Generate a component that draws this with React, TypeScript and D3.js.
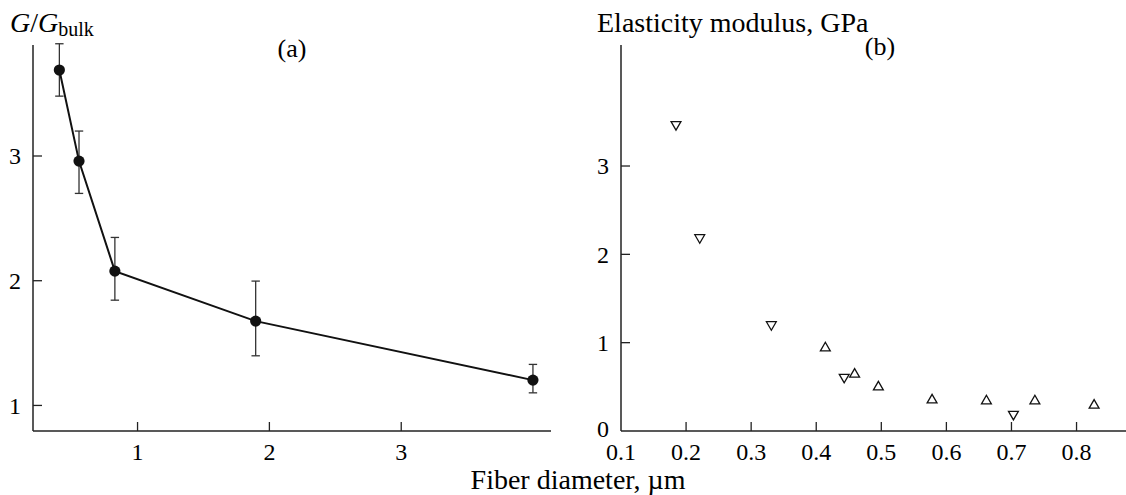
import React from "react";
import * as d3 from "d3";

// Panel (a): G/G_bulk vs fiber diameter
const aDiam = [0.407, 0.556, 0.828, 1.896, 3.999];
const aRatio = [3.689, 2.959, 2.077, 1.676, 1.203];
const aErrHi = [3.9, 3.2, 2.347, 1.997, 1.329];
const aErrLo = [3.48, 2.7, 1.844, 1.398, 1.101];
const aXTicks = [1, 2, 3];
const aYTicks = [1, 2, 3];

// Panel (b): elasticity modulus vs fiber diameter
const bDownX = [0.1845, 0.221, 0.331, 0.443, 0.703];
const bDownY = [3.47, 2.19, 1.205, 0.61, 0.19];
const bUpX = [0.414, 0.459, 0.4955, 0.578, 0.6615, 0.736, 0.827];
const bUpY = [0.94, 0.642, 0.498, 0.351, 0.34, 0.34, 0.291];
const bXTicks = [0.1, 0.2, 0.3, 0.4, 0.5, 0.6, 0.7, 0.8];
const bYTicks = [0, 1, 2, 3];

const FONT = "Liberation Serif, Times New Roman, serif";
const tf = (size: number): React.CSSProperties => ({ fontFamily: FONT, fontSize: size + "px" });

export default function App() {
  const W = 1126, H = 495;
  const axisY = 431;
  const top = 45;
  const TICK_FS = 24;
  const TITLE_FS = 28;

  const ax = d3.scaleLinear().domain([0.207, 4.136]).range([33, 551]);
  const ay = d3.scaleLinear().domain([0.795, 3.89]).range([axisY, top]);
  const bx = d3.scaleLinear().domain([0.1, 0.876]).range([621, 1126]);
  const by = d3.scaleLinear().domain([0, 4.37]).range([axisY, top]);

  const line = d3
    .line<number>()
    .x((_, i) => ax(aDiam[i]))
    .y((d) => ay(d));

  const tri = d3.symbol(d3.symbolTriangle, 42)() as string;
  const axisColor = "#222";
  const tickLen = 9;

  return (
    <svg
      width={W}
      height={H}
      style={{ position: "absolute", left: 0, top: 0, background: "#fff", fontFamily: FONT }}
    >
      <rect x={0} y={0} width={W} height={H} fill="#fff" />
      {/* ===== Panel (a) ===== */}
      <g>
        <line x1={ax.range()[0]} x2={ax.range()[0]} y1={top} y2={axisY} stroke={axisColor} strokeWidth={1.5} />
        <line x1={ax.range()[0]} x2={ax.range()[1]} y1={axisY} y2={axisY} stroke={axisColor} strokeWidth={1.5} />
        {aYTicks.map((t) => (
          <g key={"ay" + t}>
            <line x1={ax.range()[0]} x2={ax.range()[0] + tickLen} y1={ay(t)} y2={ay(t)} stroke={axisColor} strokeWidth={1.3} />
            <text x={21} y={ay(t)} dy="0.35em" textAnchor="end" style={tf(TICK_FS)}>
              {t}
            </text>
          </g>
        ))}
        {aXTicks.map((t) => (
          <g key={"ax" + t}>
            <line x1={ax(t)} x2={ax(t)} y1={axisY} y2={axisY - tickLen} stroke={axisColor} strokeWidth={1.3} />
            <text x={ax(t)} y={460} textAnchor="middle" style={tf(TICK_FS)}>
              {t}
            </text>
          </g>
        ))}
        {/* error bars */}
        {aDiam.map((d, i) => (
          <g key={"err" + i} stroke="#333" strokeWidth={1.3}>
            <line x1={ax(d)} x2={ax(d)} y1={ay(aErrHi[i])} y2={ay(aErrLo[i])} />
            <line x1={ax(d) - 4.2} x2={ax(d) + 4.2} y1={ay(aErrHi[i])} y2={ay(aErrHi[i])} />
            <line x1={ax(d) - 4.2} x2={ax(d) + 4.2} y1={ay(aErrLo[i])} y2={ay(aErrLo[i])} />
          </g>
        ))}
        <path d={line(aRatio) as string} fill="none" stroke="#111" strokeWidth={2} />
        {aDiam.map((d, i) => (
          <circle key={"pt" + i} cx={ax(d)} cy={ay(aRatio[i])} r={5.6} fill="#111" />
        ))}
        <text x={10} y={32} style={tf(TITLE_FS)}>
          <tspan fontStyle="italic">G</tspan>
          <tspan>/</tspan>
          <tspan fontStyle="italic">G</tspan>
          <tspan style={tf(20)} dy={4}>bulk</tspan>
        </text>
        <text x={292} y={57} textAnchor="middle" style={tf(26)}>
          (a)
        </text>
      </g>

      {/* ===== Panel (b) ===== */}
      <g>
        <line x1={bx.range()[0]} x2={bx.range()[0]} y1={top} y2={axisY} stroke={axisColor} strokeWidth={1.5} />
        <line x1={bx.range()[0]} x2={bx.range()[1]} y1={axisY} y2={axisY} stroke={axisColor} strokeWidth={1.5} />
        {bYTicks.map((t) => (
          <g key={"by" + t}>
            {t !== 0 && (
              <line x1={bx.range()[0]} x2={bx.range()[0] + tickLen} y1={by(t)} y2={by(t)} stroke={axisColor} strokeWidth={1.3} />
            )}
            <text x={609} y={t === 0 ? by(t) - 2 : by(t)} dy="0.35em" textAnchor="end" style={tf(TICK_FS)}>
              {t}
            </text>
          </g>
        ))}
        {bXTicks.map((t) => (
          <g key={"bx" + t}>
            {t > 0.15 && (
              <line x1={bx(t)} x2={bx(t)} y1={axisY} y2={axisY - tickLen} stroke={axisColor} strokeWidth={1.3} />
            )}
            <text x={bx(t)} y={460} textAnchor="middle" style={tf(TICK_FS)}>
              {d3.format(".1f")(t)}
            </text>
          </g>
        ))}
        {bDownX.map((d, i) => (
          <path
            key={"dn" + i}
            d={tri}
            transform={`translate(${bx(d)},${by(bDownY[i])}) rotate(180)`}
            fill="#fff"
            stroke="#111"
            strokeWidth={1.3}
          />
        ))}
        {bUpX.map((d, i) => (
          <path
            key={"up" + i}
            d={tri}
            transform={`translate(${bx(d)},${by(bUpY[i])})`}
            fill="#fff"
            stroke="#111"
            strokeWidth={1.3}
          />
        ))}
        <text x={597} y={32} style={tf(TITLE_FS)}>
          Elasticity modulus, GPa
        </text>
        <text x={880} y={55} textAnchor="middle" style={tf(26)}>
          (b)
        </text>
      </g>

      <text x={578} y={489} textAnchor="middle" style={tf(TITLE_FS)}>
        Fiber diameter, µm
      </text>
    </svg>
  );
}
